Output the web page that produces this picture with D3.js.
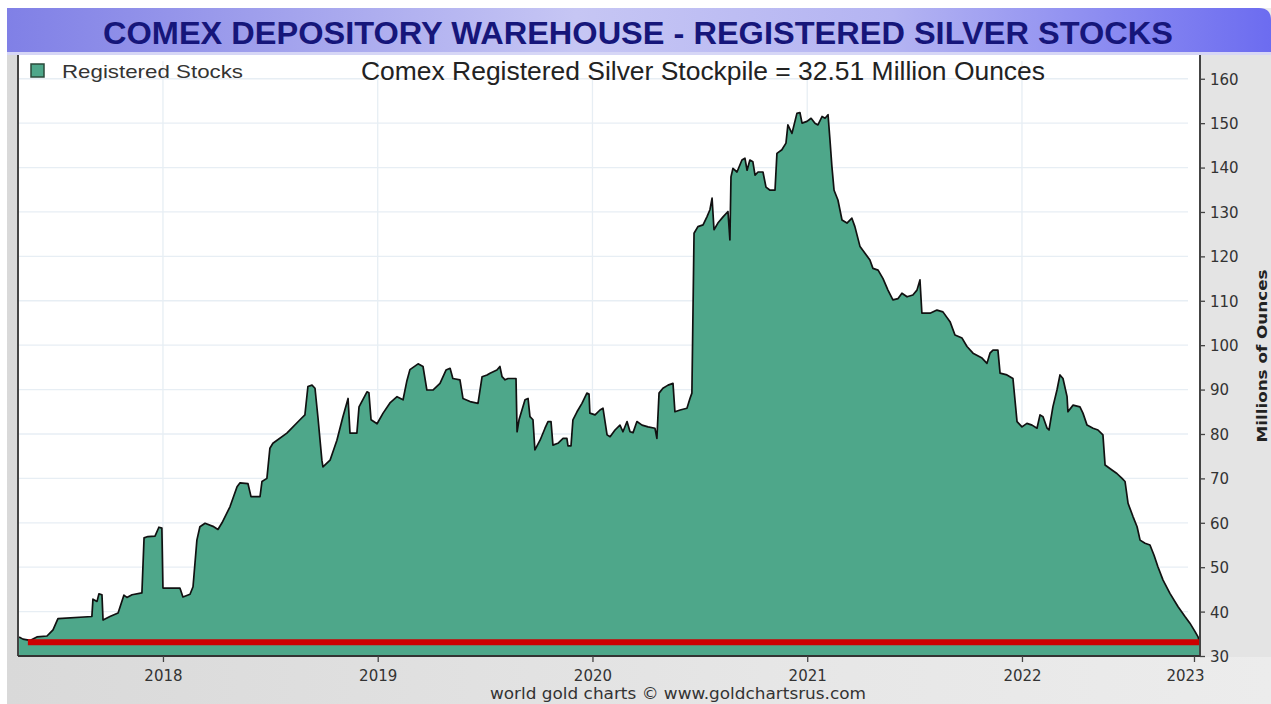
<!DOCTYPE html>
<html>
<head>
<meta charset="utf-8">
<script src="https://cdn.jsdelivr.net/npm/d3@7"></script>
<style>
  html, body { margin: 0; padding: 0; background: #ffffff; }
  svg { display: block; }
</style>
</head>
<body>
<svg id="chart" width="1271" height="704"></svg>
<script>
// ---------------- DATA ----------------
const chartTitle = "COMEX DEPOSITORY WAREHOUSE - REGISTERED SILVER STOCKS";
const subTitle = "Comex Registered Silver Stockpile = 32.51  Million Ounces";
const seriesName = "Registered Stocks";
const yAxisTitle = "Millions of Ounces";
const footerText = "world gold charts \u00a9 www.goldchartsrus.com";

// decimal years
const dates = [
  2017.330, 2017.348, 2017.381, 2017.413, 2017.460, 2017.488, 2017.511, 2017.669, 2017.674, 2017.693,
  2017.702, 2017.716, 2017.721, 2017.753, 2017.791, 2017.818, 2017.832, 2017.856, 2017.902, 2017.912,
  2017.930, 2017.963, 2017.981, 2017.995, 2018.000, 2018.079, 2018.093, 2018.126, 2018.140, 2018.158,
  2018.172, 2018.196, 2018.233, 2018.256, 2018.275, 2018.312, 2018.345, 2018.359, 2018.396, 2018.410,
  2018.452, 2018.461, 2018.484, 2018.498, 2018.512, 2018.577, 2018.638, 2018.661, 2018.675, 2018.694,
  2018.708, 2018.722, 2018.740, 2018.745, 2018.778, 2018.810, 2018.838, 2018.862, 2018.871, 2018.903,
  2018.913, 2018.950, 2018.959, 2018.969, 2018.997, 2019.025, 2019.057, 2019.090, 2019.118, 2019.136,
  2019.150, 2019.188, 2019.211, 2019.229, 2019.257, 2019.290, 2019.318, 2019.337, 2019.350, 2019.383,
  2019.397, 2019.430, 2019.467, 2019.486, 2019.509, 2019.523, 2019.555, 2019.569, 2019.579, 2019.593,
  2019.607, 2019.644, 2019.649, 2019.658, 2019.686, 2019.700, 2019.709, 2019.723, 2019.732, 2019.756,
  2019.779, 2019.793, 2019.807, 2019.816, 2019.839, 2019.863, 2019.881, 2019.886, 2019.900, 2019.909,
  2019.928, 2019.951, 2019.974, 2019.984, 2019.988, 2020.012, 2020.035, 2020.049, 2020.068, 2020.082,
  2020.105, 2020.128, 2020.142, 2020.161, 2020.175, 2020.189, 2020.207, 2020.231, 2020.259, 2020.291,
  2020.300, 2020.310, 2020.328, 2020.352, 2020.375, 2020.384, 2020.408, 2020.440, 2020.454, 2020.463,
  2020.473, 2020.491, 2020.515, 2020.533, 2020.547, 2020.557, 2020.566, 2020.584, 2020.608, 2020.631,
  2020.640, 2020.645, 2020.654, 2020.673, 2020.696, 2020.710, 2020.720, 2020.733, 2020.747, 2020.757,
  2020.771, 2020.794, 2020.808, 2020.827, 2020.850, 2020.859, 2020.882, 2020.901, 2020.910, 2020.929,
  2020.952, 2020.966, 2020.976, 2020.999, 2021.018, 2021.036, 2021.050, 2021.069, 2021.083, 2021.097,
  2021.106, 2021.115, 2021.125, 2021.143, 2021.162, 2021.185, 2021.208, 2021.222, 2021.246, 2021.269,
  2021.292, 2021.306, 2021.330, 2021.353, 2021.376, 2021.399, 2021.423, 2021.441, 2021.465, 2021.492,
  2021.511, 2021.525, 2021.534, 2021.572, 2021.604, 2021.632, 2021.665, 2021.688, 2021.721, 2021.744,
  2021.772, 2021.814, 2021.837, 2021.851, 2021.865, 2021.888, 2021.898, 2021.930, 2021.958, 2021.977,
  2022.000, 2022.023, 2022.047, 2022.070, 2022.084, 2022.098, 2022.117, 2022.126, 2022.144, 2022.163,
  2022.177, 2022.191, 2022.210, 2022.214, 2022.238, 2022.270, 2022.284, 2022.303, 2022.331, 2022.354,
  2022.377, 2022.387, 2022.419, 2022.442, 2022.466, 2022.480, 2022.494, 2022.517, 2022.536, 2022.550,
  2022.573, 2022.596, 2022.615, 2022.633, 2022.657, 2022.689, 2022.727, 2022.759, 2022.782, 2022.806,
  2022.820, 2022.829
];

// millions of ounces
const stocks = [
  34.3, 33.8, 33.5, 34.3, 34.5, 35.9, 38.4, 38.9, 42.8, 42.3,
  44.0, 43.8, 38.1, 38.9, 39.7, 43.7, 43.2, 43.8, 44.2, 56.6,
  56.9, 57.0, 59.0, 58.8, 45.3, 45.3, 43.3, 43.9, 45.6, 56.1,
  59.1, 59.9, 59.2, 58.5, 60.0, 63.6, 68.1, 69.0, 68.8, 65.9,
  65.9, 69.3, 70.0, 76.8, 77.9, 80.2, 83.2, 84.3, 90.7, 91.0,
  90.3, 83.6, 74.1, 72.6, 74.1, 78.6, 83.9, 88.0, 80.2, 80.2,
  86.1, 89.5, 89.3, 83.2, 82.3, 84.7, 87.0, 88.4, 87.7, 92.0,
  94.5, 95.8, 95.2, 89.9, 89.9, 91.4, 94.4, 94.8, 92.5, 92.2,
  88.0, 87.3, 86.9, 92.9, 93.3, 93.7, 94.4, 95.2, 92.9, 92.2,
  92.5, 92.5, 80.5, 83.2, 87.7, 88.0, 83.9, 83.2, 76.4, 78.6,
  81.3, 82.8, 82.8, 77.5, 77.9, 79.0, 79.0, 77.3, 77.3, 83.2,
  85.0, 86.9, 89.2, 89.0, 84.7, 84.3, 85.4, 85.8, 79.8, 79.4,
  80.9, 82.0, 80.5, 82.8, 80.5, 80.3, 82.8, 82.0, 81.6, 81.3,
  79.0, 89.2, 90.3, 91.0, 91.4, 85.0, 85.4, 85.8, 88.0, 89.2,
  125.2, 126.7, 127.1, 128.9, 130.5, 133.1, 126.0, 127.5, 128.9, 130.1,
  123.7, 137.9, 139.8, 139.0, 141.7, 142.1, 139.4, 141.7, 141.3, 138.3,
  139.0, 139.0, 135.6, 134.9, 134.9, 143.2, 144.0, 145.5, 149.6, 147.7,
  152.2, 152.4, 150.0, 150.4, 151.1, 150.0, 149.6, 151.5, 151.1, 151.9,
  146.2, 140.2, 134.9, 132.7, 128.2, 127.5, 128.6, 126.7, 122.2, 120.7,
  119.2, 117.3, 116.9, 115.0, 112.4, 110.2, 110.5, 111.7, 110.9, 111.3,
  112.4, 114.7, 107.2, 107.2, 107.9, 107.5, 105.3, 102.3, 101.6, 99.7,
  98.2, 97.1, 95.9, 98.2, 98.9, 98.9, 93.7, 93.3, 92.5, 82.8,
  81.6, 82.4, 82.0, 81.3, 84.3, 83.9, 81.3, 80.9, 86.1, 89.9,
  93.3, 92.5, 88.4, 85.0, 86.5, 86.1, 84.7, 82.0, 81.3, 80.9,
  79.8, 73.0, 71.9, 71.1, 70.0, 69.3, 64.4, 61.4, 59.1, 56.1,
  55.4, 55.0, 52.7, 50.1, 47.1, 44.1, 41.1, 38.9, 37.4, 35.5,
  34.3, 32.5
];

const xDomain = [2017.325, 2022.829];
const yDomain = [30, 164.9];
const xTickValues = [2018, 2019, 2020, 2021, 2022, 2022.801];
const xTickLabels = ["2018", "2019", "2020", "2021", "2022", "2023"];
const yTickValues = [30, 40, 50, 60, 70, 80, 90, 100, 110, 120, 130, 140, 150, 160];
const yTickLabels = ["30", "40", "50", "60", "70", "80", "90", "100", "110", "120", "130", "140", "150", "160"];

// red marker line (current level)
const markerLevel = 33.1;
const markerSpan = [2017.371, 2022.852];

// ---------------- DRAW ----------------
const W = 1271, H = 704;
const plot = { left: 18, right: 1200, top: 55, bottom: 656 };
const svg = d3.select("#chart");
const defs = svg.append("defs");

const bgGrad = defs.append("linearGradient").attr("id", "bgGrad")
  .attr("x1", "0%").attr("x2", "100%").attr("y1", "0%").attr("y2", "0%");
bgGrad.append("stop").attr("offset", "0%").attr("stop-color", "#d9d9d9");
bgGrad.append("stop").attr("offset", "60%").attr("stop-color", "#e6e6e6");
bgGrad.append("stop").attr("offset", "100%").attr("stop-color", "#ececec");

const titleGrad = defs.append("linearGradient").attr("id", "titleGrad")
  .attr("x1", "0%").attr("x2", "100%").attr("y1", "0%").attr("y2", "0%");
titleGrad.append("stop").attr("offset", "0%").attr("stop-color", "#8080e6");
titleGrad.append("stop").attr("offset", "45%").attr("stop-color", "#c6c6f4");
titleGrad.append("stop").attr("offset", "70%").attr("stop-color", "#b4b4f2");
titleGrad.append("stop").attr("offset", "100%").attr("stop-color", "#6c6cf0");

// white page + grey frame
svg.append("rect").attr("x", 0).attr("y", 0).attr("width", W).attr("height", H).attr("fill", "#ffffff");
svg.append("rect").attr("x", 7).attr("y", 8).attr("width", W - 7).attr("height", H - 8).attr("fill", "url(#bgGrad)");

// title band
svg.append("path")
  .attr("d", `M7,8 H${W - 12} Q${W},8 ${W},20 V54 H7 Z`)
  .attr("fill", "url(#titleGrad)");
svg.append("rect").attr("x", 7).attr("y", 52).attr("width", W - 7).attr("height", 3).attr("fill", "#d6d6f6");

// plot background
svg.append("rect").attr("x", plot.left).attr("y", plot.top)
  .attr("width", plot.right - plot.left).attr("height", plot.bottom - plot.top)
  .attr("fill", "#ffffff");

const x = d3.scaleLinear().domain(xDomain).range([plot.left, plot.right]);
const y = d3.scaleLinear().domain(yDomain).range([plot.bottom, plot.top + 2]);

// grid
const grid = svg.append("g");
grid.selectAll(".hg").data(yTickValues.filter(v => v > 30)).enter().append("line")
  .attr("x1", plot.left + 1).attr("x2", plot.right - 12)
  .attr("y1", d => y(d)).attr("y2", d => y(d))
  .attr("stroke", "#e7eef4").attr("stroke-width", 1.3);
grid.selectAll(".vg").data(xTickValues.slice(0, 5)).enter().append("line")
  .attr("x1", d => x(d)).attr("x2", d => x(d))
  .attr("y1", plot.top + 6).attr("y2", plot.bottom)
  .attr("stroke", "#e7eef4").attr("stroke-width", 1.3);

// area
const pts = dates.map((d, i) => [d, stocks[i]]);
const area = d3.area().x(d => x(d[0])).y0(y(30)).y1(d => y(d[1]));
const line = d3.line().x(d => x(d[0])).y(d => y(d[1]));
svg.append("path").datum(pts).attr("d", area).attr("fill", "#4ea78a");
svg.append("path").datum(pts).attr("d", line)
  .attr("fill", "none").attr("stroke", "#111").attr("stroke-width", 1.7)
  .attr("stroke-linejoin", "round");

// red marker line
svg.append("line")
  .attr("x1", x(markerSpan[0])).attr("x2", x(markerSpan[1]))
  .attr("y1", y(markerLevel)).attr("y2", y(markerLevel))
  .attr("stroke", "#cc0000").attr("stroke-width", 6);

// right grey panel
svg.append("rect").attr("x", plot.right).attr("y", plot.top)
  .attr("width", W - plot.right).attr("height", plot.bottom - plot.top + 1)
  .attr("fill", "#e4e4e4");

// frame lines
svg.append("line").attr("x1", plot.left).attr("x2", plot.left)
  .attr("y1", plot.top).attr("y2", plot.bottom)
  .attr("stroke", "#444").attr("stroke-width", 2);
svg.append("line").attr("x1", plot.right).attr("x2", plot.right)
  .attr("y1", plot.top).attr("y2", plot.bottom + 1)
  .attr("stroke", "#444").attr("stroke-width", 2);
svg.append("line").attr("x1", plot.left).attr("x2", plot.right)
  .attr("y1", plot.bottom).attr("y2", plot.bottom)
  .attr("stroke", "#333").attr("stroke-width", 2);

// right axis
const yAxis = d3.axisRight(y).tickValues(yTickValues)
  .tickFormat((d, i) => yTickLabels[i]).tickSize(5).tickPadding(5);
const gy = svg.append("g").attr("transform", `translate(${plot.right},0)`).call(yAxis);
gy.select(".domain").remove();
gy.selectAll("line").attr("stroke", "#444").attr("stroke-width", 1.3);
gy.selectAll("text").attr("font-family", "DejaVu Sans, Verdana, sans-serif")
  .attr("font-size", 15).attr("fill", "#333").attr("dy", "0.36em");

// bottom axis
const xAxis = d3.axisBottom(x).tickValues(xTickValues)
  .tickFormat((d, i) => xTickLabels[i]).tickSize(6).tickPadding(8);
const gx = svg.append("g").attr("transform", `translate(0,${plot.bottom})`).call(xAxis);
gx.select(".domain").remove();
gx.selectAll("line").attr("stroke", "#444").attr("stroke-width", 1.3);
gx.selectAll("text").attr("font-family", "DejaVu Sans, Verdana, sans-serif")
  .attr("font-size", 15).attr("fill", "#333");
gx.selectAll(".tick").filter((d, i) => i === 5).select("text").attr("dx", -9);

// titles
svg.append("text").attr("x", 638).attr("y", 44).attr("text-anchor", "middle")
  .attr("font-family", "Liberation Sans, Arial, sans-serif").attr("font-weight", "bold")
  .attr("font-size", 31).attr("fill", "#16167a")
  .attr("textLength", 1070).attr("lengthAdjust", "spacingAndGlyphs")
  .text(chartTitle);

svg.append("text").attr("x", 361).attr("y", 80)
  .attr("font-family", "Liberation Sans, Arial, sans-serif")
  .attr("font-size", 25).attr("fill", "#222")
  .attr("textLength", 684).attr("lengthAdjust", "spacingAndGlyphs")
  .text(subTitle);

// legend
svg.append("rect").attr("x", 31).attr("y", 64).attr("width", 13).attr("height", 13)
  .attr("fill", "#4ea78a").attr("stroke", "#2a4a3a").attr("stroke-width", 1.5);
svg.append("text").attr("x", 62).attr("y", 78)
  .attr("font-family", "Liberation Sans, Arial, sans-serif")
  .attr("font-size", 19).attr("fill", "#333")
  .attr("textLength", 181).attr("lengthAdjust", "spacingAndGlyphs")
  .text(seriesName);

// y axis title
svg.append("text")
  .attr("transform", `translate(1267,356) rotate(-90)`)
  .attr("text-anchor", "middle")
  .attr("font-family", "DejaVu Sans, Verdana, sans-serif").attr("font-weight", "bold")
  .attr("font-size", 14).attr("fill", "#222")
  .attr("textLength", 173).attr("lengthAdjust", "spacingAndGlyphs")
  .text(yAxisTitle);

// footer
svg.append("text").attr("x", 678).attr("y", 699).attr("text-anchor", "middle")
  .attr("font-family", "DejaVu Sans, Verdana, sans-serif")
  .attr("font-size", 15).attr("fill", "#333")
  .attr("textLength", 376).attr("lengthAdjust", "spacingAndGlyphs")
  .text(footerText);
</script>
</body>
</html>
